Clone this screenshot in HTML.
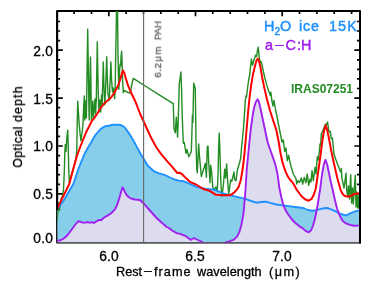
<!DOCTYPE html><html><head><meta charset="utf-8"><title>plot</title><style>

html,body{margin:0;padding:0;background:#fff;}
body{width:379px;height:285px;position:relative;overflow:hidden;font-family:"Liberation Sans",sans-serif;color:#000;}
.t{position:absolute;white-space:nowrap;line-height:1;will-change:transform;-webkit-text-stroke:0.3px currentColor;}
.yl{font-size:13.8px;width:30px;text-align:right;left:23px;letter-spacing:0.15px}
.xl{font-size:13.8px;width:40px;text-align:center;letter-spacing:0.15px}
.d{display:inline-block;height:0;border-top:1.7px solid currentColor;vertical-align:0.29em;}

</style></head><body>
<svg width="379" height="285" viewBox="0 0 379 285" style="position:absolute;left:0;top:0">
<rect width="379" height="285" fill="#fff"/>
<g stroke="#000" stroke-width="2" fill="none" stroke-linecap="butt">
<rect x="57.1" y="11.1" width="302.9" height="231.35" stroke-linejoin="round"/>
<path d="M74.1,12.1v1.9 M74.1,241.45v-1.9 M91.5,12.1v1.9 M91.5,241.45v-1.9 M108.8,12.1v4.2 M108.8,241.45v-4.2 M126.1,12.1v1.9 M126.1,241.45v-1.9 M143.5,12.1v1.9 M143.5,241.45v-1.9 M160.8,12.1v1.9 M160.8,241.45v-1.9 M178.2,12.1v1.9 M178.2,241.45v-1.9 M195.5,12.1v4.2 M195.5,241.45v-4.2 M212.8,12.1v1.9 M212.8,241.45v-1.9 M230.2,12.1v1.9 M230.2,241.45v-1.9 M247.5,12.1v1.9 M247.5,241.45v-1.9 M264.9,12.1v1.9 M264.9,241.45v-1.9 M282.2,12.1v4.2 M282.2,241.45v-4.2 M299.5,12.1v1.9 M299.5,241.45v-1.9 M316.9,12.1v1.9 M316.9,241.45v-1.9 M334.2,12.1v1.9 M334.2,241.45v-1.9 M351.6,12.1v1.9 M351.6,241.45v-1.9 M58.1,232.2h2.0 M359.0,232.2h-2.0 M58.1,222.6h2.0 M359.0,222.6h-2.0 M58.1,213.1h2.0 M359.0,213.1h-2.0 M58.1,203.5h2.0 M359.0,203.5h-2.0 M58.1,193.9h4.7 M359.0,193.9h-4.7 M58.1,184.3h2.0 M359.0,184.3h-2.0 M58.1,174.7h2.0 M359.0,174.7h-2.0 M58.1,165.2h2.0 M359.0,165.2h-2.0 M58.1,155.6h2.0 M359.0,155.6h-2.0 M58.1,146.0h4.7 M359.0,146.0h-4.7 M58.1,136.4h2.0 M359.0,136.4h-2.0 M58.1,126.8h2.0 M359.0,126.8h-2.0 M58.1,117.3h2.0 M359.0,117.3h-2.0 M58.1,107.7h2.0 M359.0,107.7h-2.0 M58.1,98.1h4.7 M359.0,98.1h-4.7 M58.1,88.5h2.0 M359.0,88.5h-2.0 M58.1,78.9h2.0 M359.0,78.9h-2.0 M58.1,69.4h2.0 M359.0,69.4h-2.0 M58.1,59.8h2.0 M359.0,59.8h-2.0 M58.1,50.2h4.7 M359.0,50.2h-4.7 M58.1,40.6h2.0 M359.0,40.6h-2.0 M58.1,31.0h2.0 M359.0,31.0h-2.0 M58.1,21.5h2.0 M359.0,21.5h-2.0" stroke-width="1.7"/>
</g>
<defs><clipPath id="cp"><rect x="57.2" y="11" width="302.2" height="231.5"/></clipPath></defs>
<g clip-path="url(#cp)">
<polygon points="57.0,209.5 64.0,200.0 69.3,190.7 73.3,184.0 78.2,169.5 84.0,155.0 87.7,148.0 90.8,143.0 95.1,135.4 100.8,128.8 104.0,126.9 105.6,126.2 108.7,125.8 110.5,125.2 113.0,124.8 115.1,124.6 118.5,124.7 121.4,125.2 124.6,127.3 128.5,132.6 132.5,138.9 137.2,147.6 141.2,154.7 143.4,158.6 148.0,166.0 154.0,171.3 159.0,173.3 164.5,174.9 170.0,177.5 175.1,179.7 179.0,180.6 183.5,181.2 190.0,184.0 196.2,186.9 205.0,188.6 215.0,189.6 223.0,193.5 231.9,195.6 244.5,198.6 251.0,201.0 257.2,202.8 261.0,202.0 265.7,201.7 271.0,203.2 276.2,204.5 286.8,205.9 295.0,207.0 303.4,208.0 308.0,210.0 311.9,210.8 316.0,210.2 320.3,209.1 324.0,208.2 327.3,208.0 331.0,209.3 335.1,211.2 340.7,214.0 346.0,215.3 351.3,212.9 356.7,210.9 360.0,210.4 359.4,242.5 57.2,242.5" fill="#87ceeb"/>
<polygon points="57.1,241.0 61.0,240.0 63.7,238.6 66.1,236.6 68.5,233.8 71.9,229.2 75.0,225.0 78.2,221.3 80.0,221.6 82.5,222.6 85.6,222.6 88.0,222.0 90.0,222.9 92.0,222.2 94.0,223.0 96.5,221.3 99.3,219.9 101.5,220.0 103.5,218.0 107.8,215.4 111.0,213.5 113.0,211.3 115.2,209.1 117.5,204.0 119.5,197.5 121.3,191.0 122.5,187.3 124.0,190.0 125.8,193.8 127.8,196.4 130.5,198.3 133.0,199.0 135.0,199.6 138.0,199.7 140.3,200.2 143.4,203.2 149.0,209.5 156.1,217.5 161.0,222.0 166.7,227.0 169.0,228.0 172.0,230.5 177.2,233.4 179.5,233.6 185.7,236.1 188.5,238.2 191.0,239.9 192.5,238.6 194.1,238.2 198.0,240.0 202.5,242.2 204.0,243.4 212.0,243.6 220.0,243.6 224.0,243.4 226.5,242.2 230.0,241.2 234.0,239.7 237.0,236.6 239.3,232.3 241.5,224.5 243.5,213.3 244.7,200.0 245.6,188.0 246.7,170.2 248.8,148.0 250.9,128.0 252.5,116.5 254.0,108.0 255.8,102.0 257.6,99.2 259.0,102.0 260.4,108.0 262.5,118.0 264.6,128.0 266.3,136.0 267.8,142.8 271.0,152.0 275.2,163.9 277.5,174.0 279.4,188.0 281.5,198.0 283.6,205.9 286.0,211.0 288.9,215.4 292.0,219.5 295.0,222.8 298.5,225.6 302.4,228.1 305.5,230.8 308.7,232.3 311.0,230.5 312.9,226.0 314.6,220.0 316.1,213.3 317.7,204.5 319.3,194.3 320.3,188.0 321.3,180.0 322.4,172.3 323.8,164.5 325.4,159.8 327.2,164.5 328.8,172.3 330.6,181.0 332.3,188.0 333.8,195.0 335.2,201.0 337.0,208.5 339.3,214.7 342.5,220.7 346.0,223.4 349.9,224.9 354.0,225.8 358.3,225.6 360.0,225.4 359.4,242.5 57.2,242.5" fill="#dddcef"/>
<polyline points="57.0,222.0 57.8,212.0 58.6,203.0 59.4,210.5 60.2,204.0 61.2,199.0 62.4,196.0 63.5,190.0 64.3,172.0 64.8,153.0 65.3,144.5 66.0,151.4 66.6,142.0 67.2,134.0 67.8,130.3 68.3,150.0 68.8,170.0 69.3,183.0 70.3,178.5 72.0,173.0 74.0,166.0 76.0,158.0 76.8,150.0 77.2,125.0 77.7,101.3 78.4,112.0 79.2,124.0 80.1,134.0 81.0,140.8 82.0,133.0 82.9,125.0 83.6,108.0 84.3,96.0 84.7,120.0 85.4,112.0 86.0,100.0 86.4,118.0 86.8,90.0 87.2,60.0 87.7,29.1 88.2,60.0 88.8,100.0 89.2,120.0 89.7,95.0 90.1,75.0 90.5,57.0 90.9,80.0 91.4,120.0 92.2,110.0 92.8,101.0 93.4,118.0 94.2,108.0 95.0,99.0 95.6,114.0 96.3,100.0 96.8,70.0 97.3,41.8 97.8,70.0 98.4,98.0 99.0,112.0 99.8,100.0 100.7,112.0 101.5,95.0 102.2,104.0 102.8,80.0 103.3,62.0 103.8,82.0 104.7,104.7 105.5,92.0 106.2,72.0 106.7,56.7 107.2,74.0 108.0,94.0 109.3,100.0 110.0,84.0 110.9,62.0 111.6,80.0 112.5,92.0 113.3,88.0 114.7,98.7 115.3,80.0 115.8,50.0 116.5,11.0 117.0,-25.0 117.5,11.0 118.0,55.0 118.5,78.0 118.9,89.3 119.6,70.0 120.1,64.0 120.6,66.0 121.1,56.0 121.6,51.3 122.0,60.0 122.5,78.0 123.3,92.7 124.0,90.5 127.0,92.0 130.4,93.3 131.5,86.0 133.3,78.4 146.0,86.5 160.0,95.3 173.3,103.7 173.6,115.0 174.0,128.7 175.3,132.7 176.3,117.3 177.6,137.3 178.3,118.0 178.8,102.0 179.3,83.3 179.9,80.0 180.9,72.0 181.6,90.0 182.2,115.0 182.9,132.7 183.3,143.3 184.3,142.6 185.0,147.0 186.0,153.3 187.0,149.4 188.7,156.7 190.0,154.5 191.3,151.3 191.7,140.0 192.4,115.3 192.9,122.5 193.3,102.0 193.7,83.3 194.6,86.0 195.3,89.3 195.6,110.0 196.0,140.0 196.7,168.7 197.3,172.7 198.0,158.0 198.7,144.0 199.3,154.0 200.0,162.0 201.3,176.5 202.7,172.0 204.0,168.0 205.3,163.3 206.4,177.3 206.9,160.0 207.3,146.7 208.0,146.0 208.6,160.0 209.3,171.3 210.0,182.7 210.7,165.3 211.7,172.0 212.7,186.7 214.0,190.0 216.0,187.0 217.3,191.3 218.0,175.0 218.6,150.0 219.2,133.3 219.9,150.0 220.6,175.0 221.3,190.0 222.0,196.0 223.3,186.0 224.7,169.3 225.6,178.0 226.6,163.9 227.6,180.0 228.7,194.0 230.7,180.0 231.8,181.3 234.0,172.0 234.7,180.0 236.0,180.7 237.3,170.7 238.7,165.3 239.3,163.9 240.7,158.0 241.4,149.0 242.5,138.0 243.5,128.0 244.6,112.0 245.3,101.0 245.9,96.0 246.5,97.0 247.2,91.0 248.5,81.0 249.8,74.0 250.6,66.0 251.4,59.0 252.5,65.3 254.0,60.0 255.6,55.2 256.6,56.6 257.4,51.0 258.2,47.3 258.8,53.0 259.4,59.0 260.7,62.8 261.3,62.0 263.2,70.4 264.5,76.5 266.7,84.9 268.5,90.5 270.3,95.4 270.9,92.3 271.8,100.0 273.0,106.0 274.0,100.5 275.6,110.0 277.3,118.0 279.5,129.5 282.0,142.0 283.3,140.0 284.7,151.3 286.0,148.0 287.3,160.7 288.6,155.3 290.0,162.0 291.3,167.3 293.3,174.0 294.5,176.0 296.0,178.7 296.7,184.0 298.0,180.6 299.5,182.5 301.3,178.0 302.7,184.0 304.3,177.5 306.0,182.7 307.3,174.0 308.7,185.3 310.0,179.3 311.0,182.0 312.0,170.7 313.3,180.7 315.0,167.3 316.0,174.0 317.3,156.7 318.3,160.0 319.3,152.0 320.0,144.0 320.6,146.0 321.3,134.0 322.5,131.5 324.3,127.0 325.6,124.0 326.5,124.6 327.6,122.0 328.7,130.7 329.7,132.0 330.3,131.3 331.3,138.7 332.4,138.0 333.3,146.7 334.0,154.0 336.0,160.0 338.0,165.3 340.7,172.0 341.3,168.7 342.0,178.7 343.2,184.0 344.0,188.0 345.0,181.0 346.0,173.3 346.7,190.0 347.6,196.0 348.5,186.0 349.5,199.0 350.7,174.7 351.6,203.0 352.6,188.0 353.3,204.0 354.2,190.0 355.3,175.3 356.0,207.0 356.8,192.0 357.6,208.0 358.4,196.0 359.0,208.7" fill="none" stroke="#228b22" stroke-width="1.4" stroke-linejoin="round"/>
<polyline points="57.0,209.5 64.0,200.0 69.3,190.7 73.3,184.0 78.2,169.5 84.0,155.0 87.7,148.0 90.8,143.0 95.1,135.4 100.8,128.8 104.0,126.9 105.6,126.2 108.7,125.8 110.5,125.2 113.0,124.8 115.1,124.6 118.5,124.7 121.4,125.2 124.6,127.3 128.5,132.6 132.5,138.9 137.2,147.6 141.2,154.7 143.4,158.6 148.0,166.0 154.0,171.3 159.0,173.3 164.5,174.9 170.0,177.5 175.1,179.7 179.0,180.6 183.5,181.2 190.0,184.0 196.2,186.9 205.0,188.6 215.0,189.6 223.0,193.5 231.9,195.6 244.5,198.6 251.0,201.0 257.2,202.8 261.0,202.0 265.7,201.7 271.0,203.2 276.2,204.5 286.8,205.9 295.0,207.0 303.4,208.0 308.0,210.0 311.9,210.8 316.0,210.2 320.3,209.1 324.0,208.2 327.3,208.0 331.0,209.3 335.1,211.2 340.7,214.0 346.0,215.3 351.3,212.9 356.7,210.9 360.0,210.4" fill="none" stroke="#1e90ff" stroke-width="1.9" stroke-linejoin="round"/>
<polyline points="57.1,241.0 61.0,240.0 63.7,238.6 66.1,236.6 68.5,233.8 71.9,229.2 75.0,225.0 78.2,221.3 80.0,221.6 82.5,222.6 85.6,222.6 88.0,222.0 90.0,222.9 92.0,222.2 94.0,223.0 96.5,221.3 99.3,219.9 101.5,220.0 103.5,218.0 107.8,215.4 111.0,213.5 113.0,211.3 115.2,209.1 117.5,204.0 119.5,197.5 121.3,191.0 122.5,187.3 124.0,190.0 125.8,193.8 127.8,196.4 130.5,198.3 133.0,199.0 135.0,199.6 138.0,199.7 140.3,200.2 143.4,203.2 149.0,209.5 156.1,217.5 161.0,222.0 166.7,227.0 169.0,228.0 172.0,230.5 177.2,233.4 179.5,233.6 185.7,236.1 188.5,238.2 191.0,239.9 192.5,238.6 194.1,238.2 198.0,240.0 202.5,242.2 204.0,243.4 212.0,243.6 220.0,243.6 224.0,243.4 226.5,242.2 230.0,241.2 234.0,239.7 237.0,236.6 239.3,232.3 241.5,224.5 243.5,213.3 244.7,200.0 245.6,188.0 246.7,170.2 248.8,148.0 250.9,128.0 252.5,116.5 254.0,108.0 255.8,102.0 257.6,99.2 259.0,102.0 260.4,108.0 262.5,118.0 264.6,128.0 266.3,136.0 267.8,142.8 271.0,152.0 275.2,163.9 277.5,174.0 279.4,188.0 281.5,198.0 283.6,205.9 286.0,211.0 288.9,215.4 292.0,219.5 295.0,222.8 298.5,225.6 302.4,228.1 305.5,230.8 308.7,232.3 311.0,230.5 312.9,226.0 314.6,220.0 316.1,213.3 317.7,204.5 319.3,194.3 320.3,188.0 321.3,180.0 322.4,172.3 323.8,164.5 325.4,159.8 327.2,164.5 328.8,172.3 330.6,181.0 332.3,188.0 333.8,195.0 335.2,201.0 337.0,208.5 339.3,214.7 342.5,220.7 346.0,223.4 349.9,224.9 354.0,225.8 358.3,225.6 360.0,225.4" fill="none" stroke="#a020f0" stroke-width="1.9" stroke-linejoin="round"/>
<polyline points="57.0,209.0 62.7,197.3 66.7,189.3 69.3,184.0 73.0,170.0 76.6,157.0 80.0,147.5 82.4,141.5 86.2,132.0 89.8,125.0 91.9,120.8 94.5,117.8 97.2,113.8 100.0,109.0 103.5,104.3 107.0,101.0 110.9,97.8 114.5,92.5 118.3,85.2 120.5,78.5 122.0,73.0 123.0,70.5 124.3,73.0 126.0,79.0 127.8,84.9 131.0,92.5 135.0,100.7 140.0,113.5 146.6,128.0 151.0,137.5 156.1,147.0 161.0,153.8 166.7,160.7 172.0,166.7 177.3,173.0 180.0,172.8 182.5,174.6 185.3,177.5 189.9,181.8 196.0,184.5 204.0,189.3 209.3,190.7 216.0,194.8 222.7,195.3 229.3,195.3 232.0,194.2 234.7,192.0 237.0,189.4 238.7,186.7 240.5,181.0 242.0,173.3 243.3,164.0 244.5,153.3 245.7,140.0 246.7,128.0 248.2,111.0 249.8,95.4 251.4,83.5 253.0,74.3 255.1,65.5 256.5,60.5 257.8,58.6 259.0,61.0 260.4,67.0 262.3,78.0 264.6,89.1 267.0,99.5 269.9,110.2 273.0,120.0 276.2,129.5 278.5,141.0 280.7,154.0 282.3,161.5 284.0,167.3 286.0,172.6 288.0,176.7 290.3,180.0 292.7,182.7 294.5,185.5 296.0,188.7 298.0,191.5 301.3,196.0 305.0,199.3 308.7,200.7 311.5,199.0 314.0,194.3 315.8,188.5 317.3,178.0 319.0,166.0 320.7,154.0 322.4,140.5 324.0,131.0 325.7,125.3 327.2,130.0 328.7,137.3 331.3,151.0 333.3,160.5 335.3,169.3 337.3,178.0 339.3,185.3 340.7,190.2 342.5,193.7 344.7,196.0 348.7,196.7 351.5,195.6 354.0,194.2 357.0,193.6 360.0,193.3" fill="none" stroke="#ff0000" stroke-width="2" stroke-linejoin="round"/>
</g>
<line x1="143.6" y1="12" x2="143.6" y2="242" stroke="#666" stroke-width="1.1"/>
<path d="M57.1,210V11.1M360.0,11.1V243.45" stroke="#000" stroke-width="2" fill="none"/>
</svg>
<div class="t yl" style="top:232.0px">0.0</div>
<div class="t yl" style="top:188.3px">0.5</div>
<div class="t yl" style="top:140.4px">1.0</div>
<div class="t yl" style="top:92.5px">1.5</div>
<div class="t yl" style="top:44.6px">2.0</div>
<div class="t xl" style="left:88.6px;top:250.3px">6.0</div>
<div class="t xl" style="left:175.3px;top:250.3px">6.5</div>
<div class="t xl" style="left:262.0px;top:250.3px">7.0</div>
<div class="t" style="top:265.8px;font-size:12.7px;left:116.1px;letter-spacing:0">Rest</div>
<div class="t" style="left:144.2px;top:271.3px;width:7.9px;height:1.3px;background:#111"></div>
<div class="t" style="top:265.8px;font-size:12.7px;left:153.8px;letter-spacing:1.05px">frame</div>
<div class="t" style="top:265.8px;font-size:12.7px;left:196.7px;letter-spacing:0.05px">wavelength</div>
<div class="t" style="top:265.8px;font-size:12.7px;left:268.9px;letter-spacing:1.5px">(&#956;m)</div>
<div class="t" style="left:0;top:0;width:90px;height:13px;font-size:12.3px;transform-origin:0 0;transform:translate(12px,167.3px) rotate(-90deg)"><span style="position:absolute;left:-0.6px;top:0;letter-spacing:0.5px">Optical</span><span style="position:absolute;left:45.2px;top:0;letter-spacing:1.2px">depth</span></div>
<div class="t" style="left:0;top:0;width:70px;height:10px;font-size:9.9px;color:#6c6c6c;-webkit-text-stroke:0.4px #6c6c6c;transform-origin:0 0;transform:translate(152.9px,77.3px) rotate(-90deg)"><span style="position:absolute;left:-0.4px;top:0;letter-spacing:0.45px">6.2</span><span style="position:absolute;left:15.4px;top:0;letter-spacing:1.3px">&#956;m</span><span style="position:absolute;left:37.3px;top:0;letter-spacing:-0.3px">PAH</span></div>
<div class="t" style="color:#1e90ff;font-size:14.4px;top:19.1px;-webkit-text-stroke:0.45px #1e90ff;left:264.3px">H<span style="font-size:10.2px;position:relative;top:3.9px">2</span>O</div>
<div class="t" style="color:#1e90ff;font-size:14.4px;top:19.1px;-webkit-text-stroke:0.45px #1e90ff;left:299.1px;letter-spacing:0.85px">ice</div>
<div class="t" style="color:#1e90ff;font-size:14.4px;top:19.1px;-webkit-text-stroke:0.45px #1e90ff;left:329.3px;letter-spacing:1.1px">15K</div>
<div class="t" style="color:#a020f0;font-size:14.4px;top:37.6px;-webkit-text-stroke:0.45px #a020f0;left:264.7px">a<span class="d" style="width:9.4px;margin:0 1.2px 0 1.8px"></span>C</div>
<div class="t" style="color:#a020f0;font-size:14.4px;top:37.6px;-webkit-text-stroke:0.45px #a020f0;left:296.7px">:</div>
<div class="t" style="color:#a020f0;font-size:14.4px;top:37.6px;-webkit-text-stroke:0.45px #a020f0;left:300.9px">H</div>
<div class="t" style="left:290.7px;top:82.7px;font-size:12px;font-weight:bold;color:#228b22;-webkit-text-stroke:0;letter-spacing:0px">IRAS07251</div>
</body></html>
